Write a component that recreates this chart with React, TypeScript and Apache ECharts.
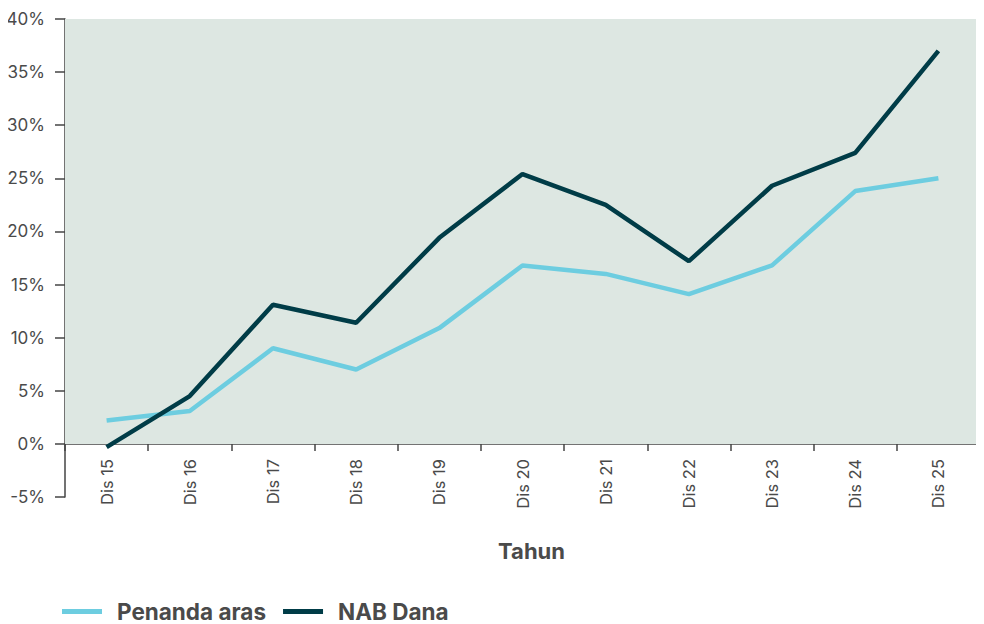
import React, { useEffect, useRef } from "react";
import * as echarts from "echarts";

const categories = ["Dis 15", "Dis 16", "Dis 17", "Dis 18", "Dis 19", "Dis 20", "Dis 21", "Dis 22", "Dis 23", "Dis 24", "Dis 25"];
const penandaAras = [2.2, 3.1, 9.0, 7.0, 10.9, 16.8, 16.0, 14.1, 16.8, 23.8, 25.0];
const nabDana = [-0.3, 4.5, 13.1, 11.4, 19.4, 25.4, 22.5, 17.2, 24.3, 27.4, 37.0];
const shadeRange = [0, 40];

const FONT = "Inter";
const TEXT = "#4a4a4a";
const AXIS = "#444444";

export default function App() {
  const ref = useRef<HTMLDivElement>(null);
  useEffect(() => {
    if (!ref.current) return;
    const chart = echarts.init(ref.current, undefined, { renderer: "svg" });
    chart.setOption({
      animation: false,
      textStyle: { fontFamily: FONT },
      grid: { left: 65, right: 4, top: 19, bottom: 127, containLabel: false, outerBoundsMode: "none" },
      legend: {
        left: 57,
        top: 595,
        itemWidth: 40,
        itemHeight: 5,
        itemGap: 17,
        icon: "rect",
        textStyle: { fontFamily: FONT, fontSize: 22.5, fontWeight: "bold", color: TEXT, padding: [0, 0, 0, 10] },
        data: ["Penanda aras", "NAB Dana"],
      },
      xAxis: {
        type: "category",
        data: categories,
        boundaryGap: true,
        name: "Tahun",
        nameLocation: "middle",
        nameGap: 43,
        nameTextStyle: { fontFamily: FONT, fontSize: 22, fontWeight: "bold", color: TEXT, padding: [0, 0, 0, 18] },
        axisLine: { onZero: true, lineStyle: { color: AXIS, width: 1.5 } },
        axisTick: { show: true, length: 7, lineStyle: { color: AXIS, width: 1.5 } },
        axisLabel: { rotate: 90, margin: -38, fontSize: 16.5, color: TEXT, fontFamily: FONT },
        splitLine: { show: false },
      },
      yAxis: {
        type: "value",
        min: -5,
        max: 40,
        interval: 5,
        axisLine: { show: true, lineStyle: { color: AXIS, width: 1.5 } },
        axisTick: { show: true, length: 10, lineStyle: { color: AXIS, width: 1.5 } },
        axisLabel: { formatter: "{value}%", fontSize: 17, color: TEXT, fontFamily: FONT, margin: 20 },
        splitLine: { show: false },
      },
      series: [
        {
          name: "Penanda aras",
          type: "line",
          data: penandaAras,
          symbol: "none",
          lineStyle: { color: "#6dcde0", width: 4.5 },
          itemStyle: { color: "#6dcde0" },
          z: 3,
          markArea: {
            silent: true,
            itemStyle: { color: "#dde7e2" },
            data: [[{ yAxis: shadeRange[0] }, { yAxis: shadeRange[1] }]],
          },
        },
        {
          name: "NAB Dana",
          type: "line",
          data: nabDana,
          symbol: "none",
          lineStyle: { color: "#003c47", width: 4.5 },
          itemStyle: { color: "#003c47" },
          z: 4,
        },
      ],
    });
    return () => chart.dispose();
  }, []);
  return <div ref={ref} style={{ width: 984, height: 624, margin: "-8px 0 0 -8px" }} />;
}
